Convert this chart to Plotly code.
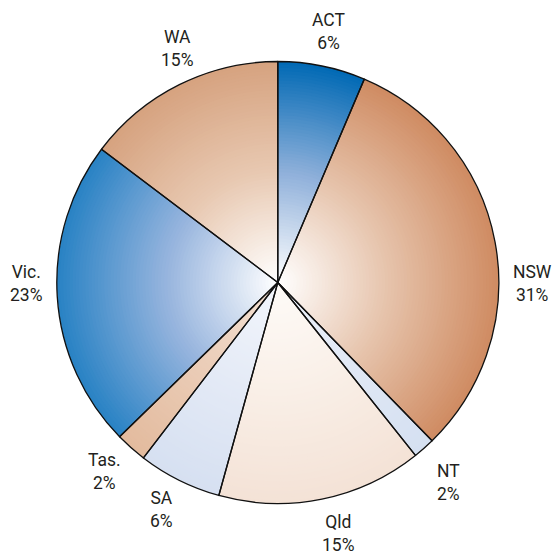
import math
import plotly.graph_objects as go

# ---- data ----
states = ["ACT", "NSW", "NT", "Qld", "SA", "Tas.", "Vic.", "WA"]
shares = [6.4, 31.3, 1.6, 15.0, 6.1, 2.3, 22.6, 14.7]
pct_labels = ["6%", "31%", "2%", "15%", "6%", "2%", "23%", "15%"]

# ---- style: radial gradient colours (centre -> middle -> rim) ----
centre_colors = ["#ffffff", "#ffffff", "#eef2fa", "#fefbf8",
                 "#f3f6fc", "#f4e2d4", "#ffffff", "#ffffff"]
mid_colors = ["#8fb0da", "#e6c3ab", "#e0e8f5", "#f9efe7",
              "#e4eaf6", "#ebcdb8", "#98b5de", "#e8c9b2"]
edge_colors = ["#0069b4", "#cf8b62", "#d5e0f1", "#f4e2d6",
               "#d6e0f1", "#e3bb9e", "#2882c4", "#d6a27f"]
label_nudge_deg = [0, 10.9, 1, -2, 0.7, 1, 3.3, 3.3]
label_r_offset = [1, 0, 8, 3, 0, 1, -4, 0]

# ---- layout geometry (pixels) ----
W, H = 555, 554
CX, CY, R = 277.8, 282.5, 221.0
LABEL_R = 255
N_LAYERS = 70
FONT = "Roboto, Liberation Sans, Arial, sans-serif"


def hex2rgb(h):
    h = h.lstrip("#")
    return tuple(int(h[i:i + 2], 16) for i in (0, 2, 4))


def lerp(a, b, t):
    a, b = hex2rgb(a), hex2rgb(b)
    return tuple(a[i] + (b[i] - a[i]) * t for i in range(3))


def grad(i, f):
    if f <= 0.5:
        c = lerp(centre_colors[i], mid_colors[i], f / 0.5)
    else:
        c = lerp(mid_colors[i], edge_colors[i], (f - 0.5) / 0.5)
    return "rgb(%d,%d,%d)" % tuple(round(v) for v in c)


def domain(f):
    rr = R * f
    return dict(x=[(CX - rr) / W, (CX + rr) / W],
                y=[(H - CY - rr) / H, (H - CY + rr) / H])


fig = go.Figure()

# radial gradient from stacked pies, outermost first
for k in range(N_LAYERS):
    f = (N_LAYERS - k) / N_LAYERS
    fmid = max(f - 0.5 / N_LAYERS, 0)
    fig.add_trace(go.Pie(
        labels=states, values=shares, sort=False, direction="clockwise",
        rotation=0, domain=domain(f), textinfo="none", hoverinfo="skip",
        marker=dict(colors=[grad(i, fmid) for i in range(len(states))],
                    line=dict(width=0)),
        showlegend=False,
    ))

# outline on top
fig.add_trace(go.Pie(
    labels=states, values=shares, sort=False, direction="clockwise",
    rotation=0, domain=domain(1.0), textinfo="none",
    marker=dict(colors=["rgba(0,0,0,0)"] * len(states),
                line=dict(color="#111111", width=1.3)),
    hovertemplate="%{label}: %{percent:.0%}<extra></extra>",
    showlegend=False,
))

# labels, placed radially at each slice's mid angle
total = sum(shares)
cum = 0.0
for i, (name, v) in enumerate(zip(states, shares)):
    mid = (cum + v / 2) / total * 360 + label_nudge_deg[i]
    cum += v
    a = math.radians(mid)
    rr = LABEL_R + label_r_offset[i]
    px = CX + rr * math.sin(a)
    py = CY - rr * math.cos(a)
    fig.add_annotation(
        x=px / W, y=1 - py / H, xref="paper", yref="paper",
        text=f"{name}<br>{pct_labels[i]}", showarrow=False,
        xanchor="center", yanchor="middle", align="center",
        font=dict(family=FONT, size=17.5, color="#231f20"),
    )

fig.update_layout(
    width=W, height=H,
    margin=dict(l=0, r=0, t=0, b=0),
    paper_bgcolor="white", plot_bgcolor="white",
    showlegend=False,
)

fig.write_html(
    "out.html",
    config={"displayModeBar": False},
    post_script="document.body.style.margin='0';document.body.style.overflow='hidden';",
)
